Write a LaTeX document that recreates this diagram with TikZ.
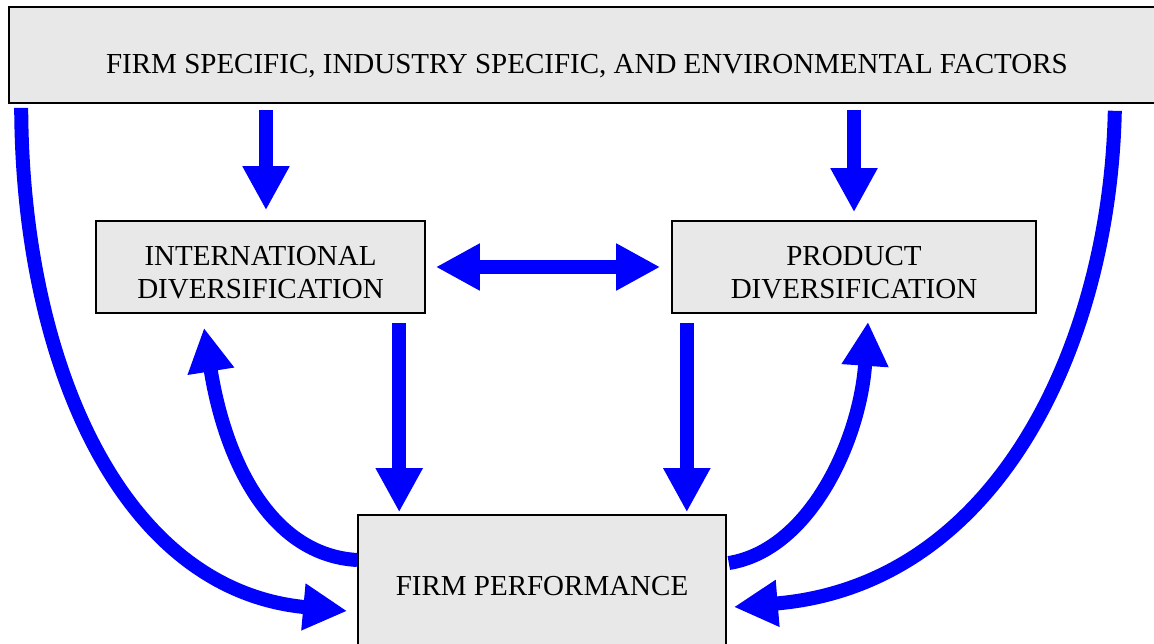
\documentclass[tikz,border=0pt]{standalone}
\usepackage{fontspec}
\setmainfont{Liberation Serif}
\usetikzlibrary{arrows.meta}
\definecolor{boxgray}{RGB}{232,232,232}
\definecolor{flowblue}{RGB}{0,0,255}

\begin{document}
\begin{tikzpicture}[x=0.5pt, y=-0.5pt,
  factor/.style={draw=black, line width=0.8pt, fill=boxgray, align=center, inner sep=0pt,
    font=\fontsize{14.5}{16.5}\selectfont},
  flow/.style={draw=flowblue, line width=7pt, -{Triangle[length=22pt,width=22pt]}},
  flowboth/.style={flow, {Triangle[length=22pt,width=22pt]}-{Triangle[length=22pt,width=22pt]}}]
\useasboundingbox (0,0) rectangle (1154,643);
\node[factor, minimum width=578pt, minimum height=48pt, text height=18pt, text depth=0pt] (top) at (587,55) {FIRM SPECIFIC, INDUSTRY SPECIFIC, AND ENVIRONMENTAL FACTORS};
\node[factor, minimum width=164.5pt, minimum height=46pt] (intl) at (260.5,267) {\rule{0pt}{15.5pt}INTERNATIONAL\\DIVERSIFICATION};
\node[factor, minimum width=182pt, minimum height=46pt] (prod) at (854,267) {\rule{0pt}{15.5pt}PRODUCT\\DIVERSIFICATION};
\node[factor, minimum width=184pt, minimum height=71pt] (perf) at (542,586) {FIRM PERFORMANCE};
\draw[flow, shorten <=3pt, shorten >=5pt] ([xshift=2.75pt]intl.north |- top.south) -- ([xshift=2.75pt]intl.north);
\draw[flow, shorten <=3pt, shorten >=4pt] (prod.north |- top.south) -- (prod.north);
\draw[flow, shorten <=4.5pt, shorten >=1pt] ([xshift=21pt]perf.north west |- intl.south) -- ([xshift=21pt]perf.north west);
\draw[flow, shorten <=4.5pt, shorten >=1pt] ([xshift=-20pt]perf.north east |- prod.south) -- ([xshift=-20pt]perf.north east);
\draw[flowboth, shorten <=5pt, shorten >=5.5pt] (intl.east) -- (prod.west);
\draw[flow] ([xshift=6.5pt,yshift=-2pt]top.south west) .. controls (22,360) and (120,590) .. ([xshift=-5pt,yshift=-12.5pt]perf.west);
\draw[flow] ([xshift=-25.5pt,yshift=-3.5pt]top.south east) .. controls (1110,340) and (1000,585) .. ([xshift=3.5pt,yshift=-10.5pt]perf.east);
\draw[flow] ([yshift=13pt]perf.west) .. controls (270,555) and (225,460) .. ([xshift=-28.25pt,yshift=-7pt]intl.south);
\draw[flow] ([xshift=1pt,yshift=11.5pt]perf.east) .. controls (810,550) and (860,440) .. ([xshift=7pt,yshift=-4pt]prod.south);
\end{tikzpicture}
\end{document}
